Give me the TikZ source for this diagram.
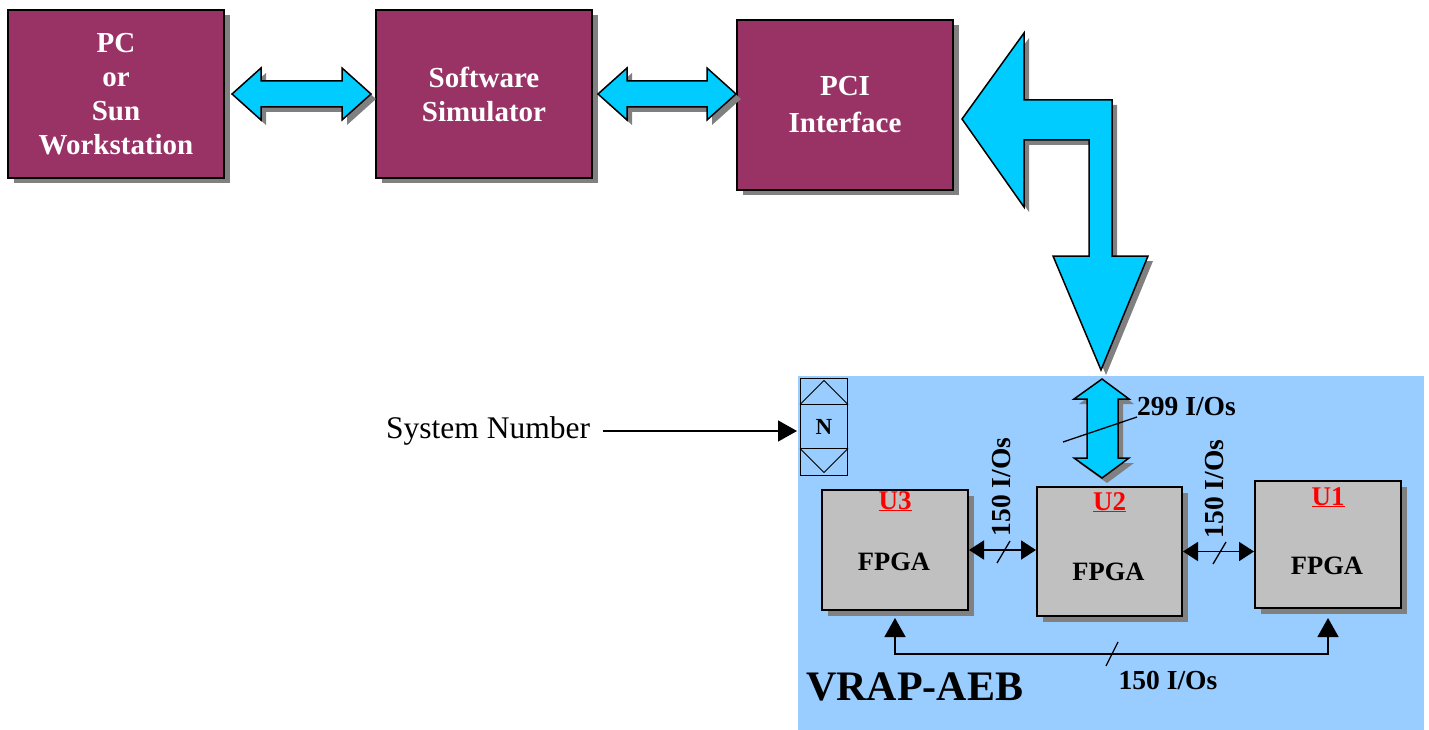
\documentclass[tikz,border=0pt]{standalone}
\usepackage{fontspec}
\setmainfont{Liberation Serif}
\usetikzlibrary{arrows.meta,calc,shadows,positioning}

\definecolor{hostred}{HTML}{993366}
\definecolor{busblue}{HTML}{00CCFF}
\definecolor{boardblue}{HTML}{99CCFF}
\definecolor{chipgray}{HTML}{C0C0C0}
\definecolor{shadowgray}{HTML}{808080}

\tikzset{
	hostbox/.style = {draw = black, line width = 2pt, fill = hostred, minimum width = 216, minimum height = 168, text = white, align = center, font = \fontsize{29}{34}\selectfont\bfseries, drop shadow = {shadow xshift = 6pt, shadow yshift = -5pt, opacity = 1, fill = shadowgray}},
	chipbox/.style = {draw = black, line width = 2pt, fill = chipgray, drop shadow = {shadow xshift = 6pt, shadow yshift = -6pt, opacity = 1, fill = shadowgray}},
	blockarrow/.style = {draw = black, line width = 1.5pt, fill = busblue, line join = miter, drop shadow = {shadow xshift = 5pt, shadow yshift = -5pt, opacity = 1, fill = shadowgray}},
	chiptext/.style = {inner sep = 0, font = \fontsize{26.5}{30}\selectfont\bfseries},
	chipname/.style = {inner sep = 0, text = red, font = \fontsize{27}{30}\selectfont\bfseries},
	iolabel/.style = {inner sep = 0, font = \fontsize{27.5}{30}\selectfont\bfseries},
	slash/.style = {line width = 1.3pt},
	iolink/.style = {line width = 1.8pt, {Triangle[length = 15pt, width = 19pt]}-{Triangle[length = 15pt, width = 19pt]}},
	looplink/.style = {line width = 1.4pt, {Triangle[length = 19pt, width = 21pt]}-{Triangle[length = 19pt, width = 21pt]}}
}

\begin{document}
\begin{tikzpicture}[x = 1pt, y = -1pt]
	\useasboundingbox (0, 0) rectangle (1429, 730);
	
	% board
	\fill[boardblue] (798, 376) rectangle (1424, 730);
	
	% host side
	\node[hostbox] (pc) at (116, 94) {PC\\or\\Sun\\Workstation};
	\node[hostbox] (sim) at (484, 94) {Software\\Simulator};
	\node[hostbox, minimum height = 170, font = \fontsize{29}{37}\selectfont\bfseries] (pci) at (845, 105) {PCI\\Interface};
	
	\draw[blockarrow] ($(pc.east) + (7, 0)$) -- ++(29, -26) -- ++(0, 13) -- ++(81, 0) -- ++(0, -13) -- ++(29, 26) -- ++(-29, 26) -- ++(0, -13) -- ++(-81, 0) -- ++(0, 13) -- cycle;
	\draw[blockarrow] ($(sim.east) + (5, 0)$) -- ++(29, -26) -- ++(0, 13) -- ++(80, 0) -- ++(0, -13) -- ++(29, 26) -- ++(-29, 26) -- ++(0, -13) -- ++(-80, 0) -- ++(0, 13) -- cycle;
	
	\draw[blockarrow] (962, 119) -- (1024, 33) -- (1024, 100) -- (1112, 100) -- (1112, 256) -- (1148, 256) -- (1101, 370) -- (1053, 256) -- (1089, 256) -- (1089, 140) -- (1024, 140) -- (1024, 207) -- cycle;
	
	% system number switch
	\node[draw = black, line width = 1pt, fill = boardblue, minimum width = 47, minimum height = 97, inner sep = 0, font = \fontsize{23}{26}\selectfont\bfseries] (nbox) at (824, 426.5) {N};
	\draw[line width = 1pt] ($(nbox.north west) + (0, 27)$) -- ($(nbox.north east) + (0, 27)$);
	\draw[line width = 1pt] ($(nbox.south west) + (0, -27)$) -- ($(nbox.south east) + (0, -27)$);
	\draw[line width = 1pt] ($(nbox.north west) + (0, 27)$) -- ($(nbox.north) + (0, 3)$) -- ($(nbox.north east) + (0, 27)$);
	\draw[line width = 1pt] ($(nbox.south west) + (0, -27)$) -- ($(nbox.south) + (0, -3)$) -- ($(nbox.south east) + (0, -27)$);
	
	\node[inner sep = 0, anchor = base west, font = \fontsize{31.5}{34}\selectfont] (sys) at (386, 438) {System Number};
	\draw[line width = 1.4pt, -{Triangle[length = 19pt, width = 21pt]}, shorten > = 3pt] ($(sys.base east) + (13, -7)$) coordinate (sysstart) -- (sysstart -| nbox.west);
	
	% fpgas
	\node[chipbox, minimum width = 146, minimum height = 120] (u3) at (895, 550) {};
	\node[chipbox, minimum width = 145, minimum height = 129] (u2) at (1109.5, 551.5) {};
	\node[chipbox, minimum width = 146, minimum height = 127] (u1) at (1328, 544.5) {};
	
	\node[chipname, anchor = base] (u3name) at ($(u3.north) + (0, 20)$) {\underline{U3}};
	\node[chipname, anchor = base] (u2name) at ($(u2.north) + (0, 24)$) {\underline{U2}};
	\node[chipname, anchor = base] (u1name) at ($(u1.north) + (0, 25)$) {\underline{U1}};
	
	\node[chiptext, anchor = base] (u3text) at ($(u3.north) + (-1, 81)$) {FPGA};
	\node[chiptext, anchor = base] (u2text) at ($(u2.north) + (-1, 94)$) {FPGA};
	\node[chiptext, anchor = base] (u1text) at ($(u1.north) + (-1, 94)$) {FPGA};
	
	% pci bus into U2
	\draw[blockarrow] (1102, 379) -- (1129, 399) -- (1118, 399) -- (1118, 458) -- (1129, 458) -- (1102, 478) -- (1074, 458) -- (1087, 458) -- (1087, 399) -- (1074, 399) -- cycle;
	\draw[slash] (1063, 442) -- (1137, 417);
	\node[iolabel, anchor = west] at (1137, 407) {299 I/Os};
	
	% links between fpgas
	\draw[iolink] (u3.east) -- (u3.east -| u2.west);
	\draw[slash] (997, 563) -- (1010, 541);
	\node[iolabel, rotate = 90] at (1001, 487) {150 I/Os};
	
	\draw[iolink] (u2.east) -- (u2.east -| u1.west);
	\draw[slash] (1213, 564) -- (1226, 542);
	\node[iolabel, rotate = 90] at (1214, 489) {150 I/Os};
	
	\draw[looplink] ($(u3.south) + (0, 7)$) -- ++(0, 36) -| ($(u1.south) + (0, 9)$);
	\draw[slash] (1106, 666) -- (1118, 642);
	\node[iolabel] at (1168, 680) {150 I/Os};
	
	\node[inner sep = 0, anchor = base west, font = \fontsize{42}{46}\selectfont\bfseries] (board) at (806, 700) {VRAP-AEB};
\end{tikzpicture}
\end{document}
